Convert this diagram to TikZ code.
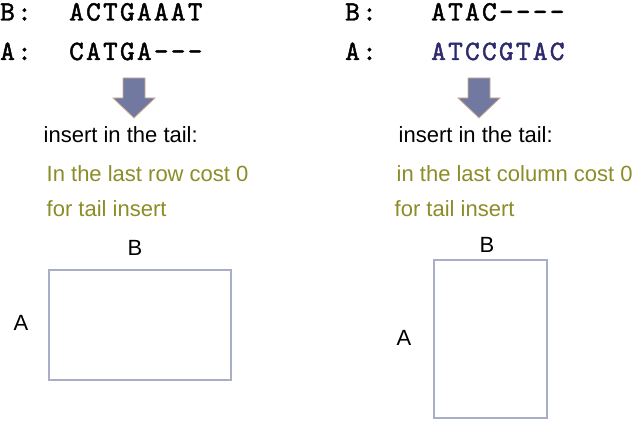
\documentclass[tikz,border=0pt]{standalone}
\usepackage{fontspec}
\setmainfont{Liberation Sans}
\newfontfamily\seqfont{lmmono10-regular.otf}[FakeBold=1.6,LetterSpace=8]
\usetikzlibrary{positioning}
\definecolor{tailolive}{RGB}{140,140,40}
\definecolor{arrowfill}{RGB}{114,121,160}
\definecolor{arrowedge}{RGB}{205,175,145}
\definecolor{boxedge}{RGB}{170,173,198}
\definecolor{seqblue}{RGB}{46,42,110}
\tikzset{>=stealth}
\tikzset{
  seq/.style={anchor=base west,inner sep=0pt,font=\seqfont\fontsize{28}{30}\selectfont},
  txt/.style={anchor=base west,inner sep=0pt,font=\fontsize{22}{26}\selectfont},
  note/.style={txt,text=tailolive},
  lbl/.style={inner sep=0pt,font=\fontsize{22}{26}\selectfont},
  tailarrow/.style={fill=arrowfill,draw=arrowedge,line width=0.8pt},
  matrixbox/.style={draw=boxedge,line width=1.5pt,inner sep=0pt}
}

\begin{document}
\begin{tikzpicture}[x=1pt,y=-1pt]
\useasboundingbox (0,0) rectangle (635,425);
% left case: tail of A filled with gaps
\node[seq] (lB) at (0,20.5) {B:};
\node[seq] (lBseq) at (69,20.5) {ACTGAAAT};
\node[seq] (lA) at (0,60) {A:};
\node[seq] (lAseq) at (69,60) {CATGA---};
\draw[tailarrow,shift={(134,78)}] (-11,0) -- (11,0) -- (11,20) -- (21,20) -- (0,40) -- (-21,20) -- (-11,20) -- cycle;
\node[txt] (linsert) at (43.5,143) {insert in the tail:};
\node[note] (lrow) at (46.5,182) {In the last row cost 0};
\node[note] (lfor) at (46.5,217) {for tail insert};
\node[matrixbox,minimum width=182pt,minimum height=110pt] (lM) at (140,325) {};
\node[lbl] (lMB) at (135,248) {B};
\node[lbl] (lMA) at (21,323) {A};
% right case: tail of B filled with gaps
\node[seq] (rB) at (345,20.5) {B:};
\node[seq] (rBseq) at (431,20.5) {ATAC----};
\node[seq] (rA) at (345,60) {A:};
\node[seq,text=seqblue] (rAseq) at (431,60) {ATCCGTAC};
\draw[tailarrow,shift={(479,78)}] (-11,0) -- (11,0) -- (11,20) -- (21,20) -- (0,40) -- (-21,20) -- (-11,20) -- cycle;
\node[txt] (rinsert) at (398.5,143) {insert in the tail:};
\node[note] (rcol) at (396.5,182) {in the last column cost 0};
\node[note] (rfor) at (394.5,217) {for tail insert};
\node[matrixbox,minimum width=113pt,minimum height=158pt] (rM) at (490.5,339) {};
\node[lbl] (rMB) at (487,245) {B};
\node[lbl] (rMA) at (404,338) {A};
\end{tikzpicture}
\end{document}
